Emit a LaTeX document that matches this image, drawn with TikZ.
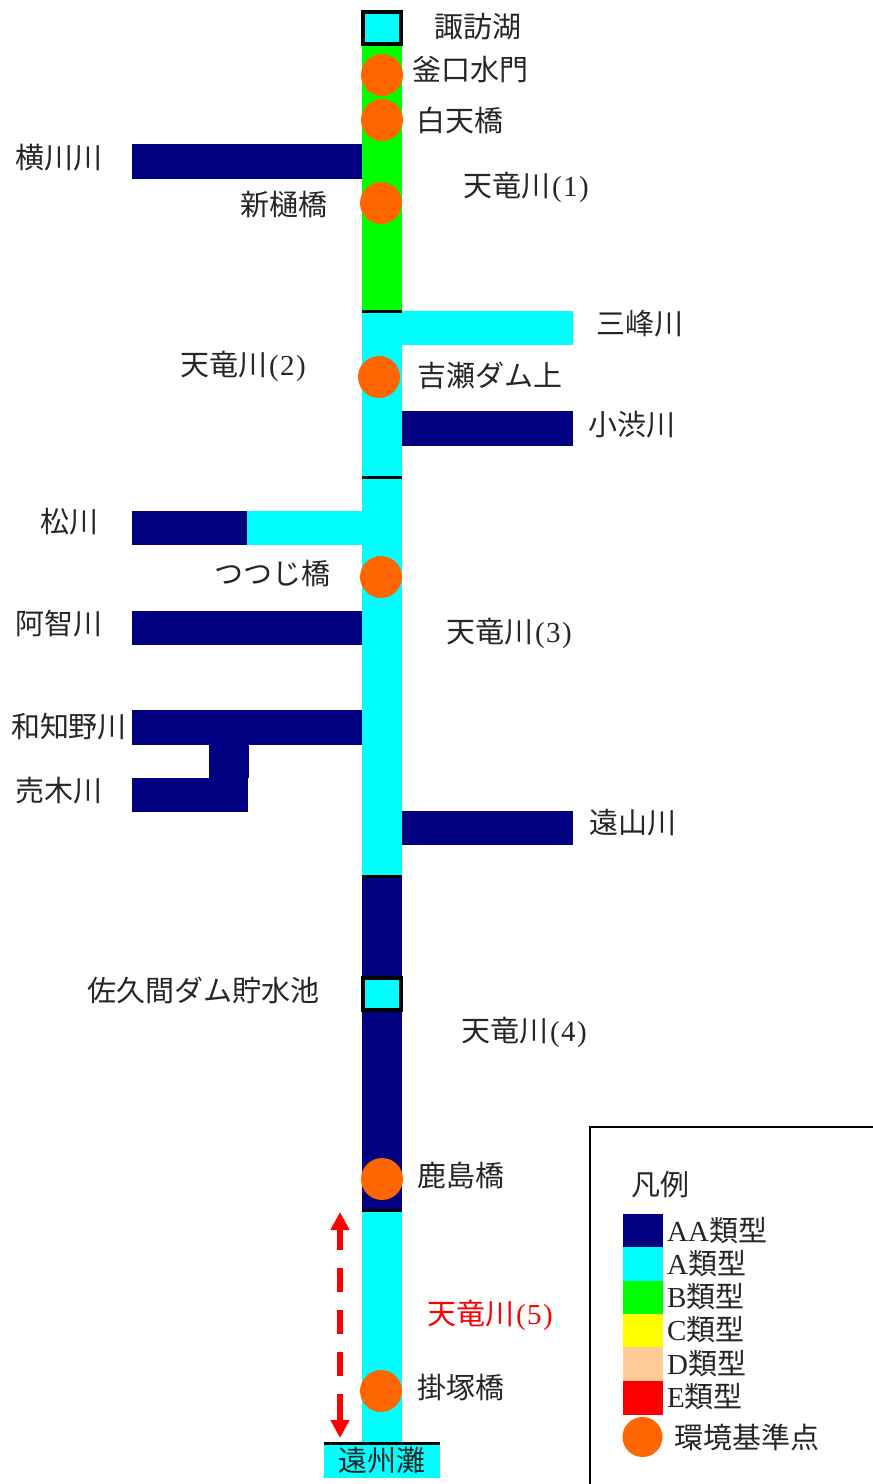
\documentclass[tikz,border=0pt]{standalone}
\usepackage{fontspec}
\setmainfont{Noto Sans CJK JP}
\newfontfamily\latserif{Liberation Serif}
\usetikzlibrary{arrows.meta}
\definecolor{navyc}{RGB}{0,0,128}
\definecolor{cyanc}{RGB}{0,255,255}
\definecolor{greenc}{RGB}{0,255,0}
\definecolor{yellowc}{RGB}{255,255,0}
\definecolor{peachc}{RGB}{255,204,153}
\definecolor{redc}{RGB}{255,0,0}
\definecolor{orangec}{RGB}{255,102,0}
\newcommand{\lat}[1]{{\latserif #1}}
\newcommand{\pn}[1]{{\latserif\kern2pt(\kern1.5pt #1\kern1.5pt)}}
\tikzset{
  lbl/.style={inner sep=0pt,font=\fontsize{29}{31}\selectfont,text=black!85},
  leg/.style={lbl,anchor=west},
  station/.style={fill=orangec,draw=none},
  sep/.style={draw=black,line width=3pt},
  boxed/.style={fill=cyanc,draw=black,line width=4pt},
}
\begin{document}
\begin{tikzpicture}[x=1pt,y=-1pt]
\useasboundingbox (0,0) rectangle (873,1484);
\fill[white] (0,0) rectangle (873,1484);
% main river
\fill[greenc] (362,45) rectangle (402,311);
\fill[cyanc] (362,311) rectangle (402,877);
\fill[navyc] (362,877) rectangle (402,1211);
\fill[cyanc] (362,1211) rectangle (402,1444);
% tributaries
\fill[navyc] (132,144) rectangle (362,179);
\fill[cyanc] (402,311) rectangle (573,345);
\fill[navyc] (402,411) rectangle (573,446);
\fill[navyc] (132,511) rectangle (247,545);
\fill[cyanc] (247,511) rectangle (362,545);
\fill[navyc] (132,611) rectangle (362,645);
\fill[navyc] (132,710) rectangle (362,745);
\fill[navyc] (209,745) rectangle (249,778);
\fill[navyc] (132,778) rectangle (248,812);
\fill[navyc] (402,811) rectangle (573,845);
% boundaries
\draw[sep] (362,311.5) -- (402,311.5);
\draw[sep] (362,477.5) -- (402,477.5);
\draw[sep] (362,876.5) -- (402,876.5);
\draw[sep] (362,1210.5) -- (402,1210.5);
\draw[boxed] (363,12) rectangle (401,44);
\draw[boxed] (363,978) rectangle (401,1010);
% sea
\fill[cyanc] (324,1443) rectangle (440,1478);
\draw[sep] (324,1443.5) -- (440,1443.5);
% stations
\fill[station] (382,75) circle (21);
\fill[station] (382,120) circle (21);
\fill[station] (381,203) circle (21);
\fill[station] (379,377) circle (21);
\fill[station] (381,577) circle (21);
\fill[station] (382,1179) circle (21);
\fill[station] (381,1391) circle (21);
% labels
\node[lbl] (suwa) at (478,27) {諏訪湖};
\node[lbl] (kama) at (470,70) {釜口水門};
\node[lbl] (shira) at (460,120) {白天橋};
\node[lbl] (yoko) at (59,158) {横川川};
\node[lbl] (shindoi) at (284,205) {新樋橋};
\node[lbl] (ten1) at (526,187) {天竜川\pn{1}};
\node[lbl] (mibu) at (640,324) {三峰川};
\node[lbl] (ten2) at (243,366) {天竜川\pn{2}};
\node[lbl] (kise) at (490,376) {吉瀬ダム上};
\node[lbl] (koshibu) at (632,425) {小渋川};
\node[lbl] (matsu) at (69,522) {松川};
\node[lbl] (tsutsuji) at (272,573) {つつじ橋};
\node[lbl] (achi) at (59,624) {阿智川};
\node[lbl] (ten3) at (509,633) {天竜川\pn{3}};
\node[lbl] (wachino) at (69,727) {和知野川};
\node[lbl] (urugi) at (59,791) {売木川};
\node[lbl] (toyama) at (633,823) {遠山川};
\node[lbl] (sakuma) at (203,990) {佐久間ダム貯水池};
\node[lbl] (ten4) at (524,1032) {天竜川\pn{4}};
\node[lbl] (kashima) at (461,1175) {鹿島橋};
\node[lbl,text=redc] (ten5) at (490,1315) {天竜川\pn{5}};
\node[lbl] (kakezuka) at (461,1387) {掛塚橋};
\node[lbl] (enshu) at (382,1460) {遠州灘};
% red double arrow
\coordinate (arrA) at (340,1212);
\coordinate (arrB) at (340,1438);
\draw[redc,line width=6pt,{Triangle[length=18pt,width=18pt]}-{Triangle[length=18pt,width=18pt]},
  dash pattern=on 21pt off 18pt on 24pt off 18pt on 24pt off 18pt on 24pt off 18pt on 26pt off 1pt] (arrA) -- (arrB);
% legend
\draw[black,line width=2pt] (873,1127) -- (590,1127) -- (590,1484);
\node[lbl] (legtitle) at (660,1185) {凡例};
\fill[navyc] (623,1214) rectangle (663,1247);
\fill[cyanc] (623,1247) rectangle (663,1281);
\fill[greenc] (623,1281) rectangle (663,1314);
\fill[yellowc] (623,1314) rectangle (663,1347);
\fill[peachc] (623,1347) rectangle (663,1381);
\fill[redc] (623,1381) rectangle (663,1415);
\fill[station] (642.5,1437) circle (20);
\node[leg] (lAA) at (667,1231) {\lat{AA}類型};
\node[leg] (lA) at (667,1264) {\lat{A}類型};
\node[leg] (lB) at (667,1297) {\lat{B}類型};
\node[leg] (lC) at (667,1330) {\lat{C}類型};
\node[leg] (lD) at (667,1364) {\lat{D}類型};
\node[leg] (lE) at (667,1397) {\lat{E}類型};
\node[leg] (lS) at (674,1437) {環境基準点};
\end{tikzpicture}
\end{document}
